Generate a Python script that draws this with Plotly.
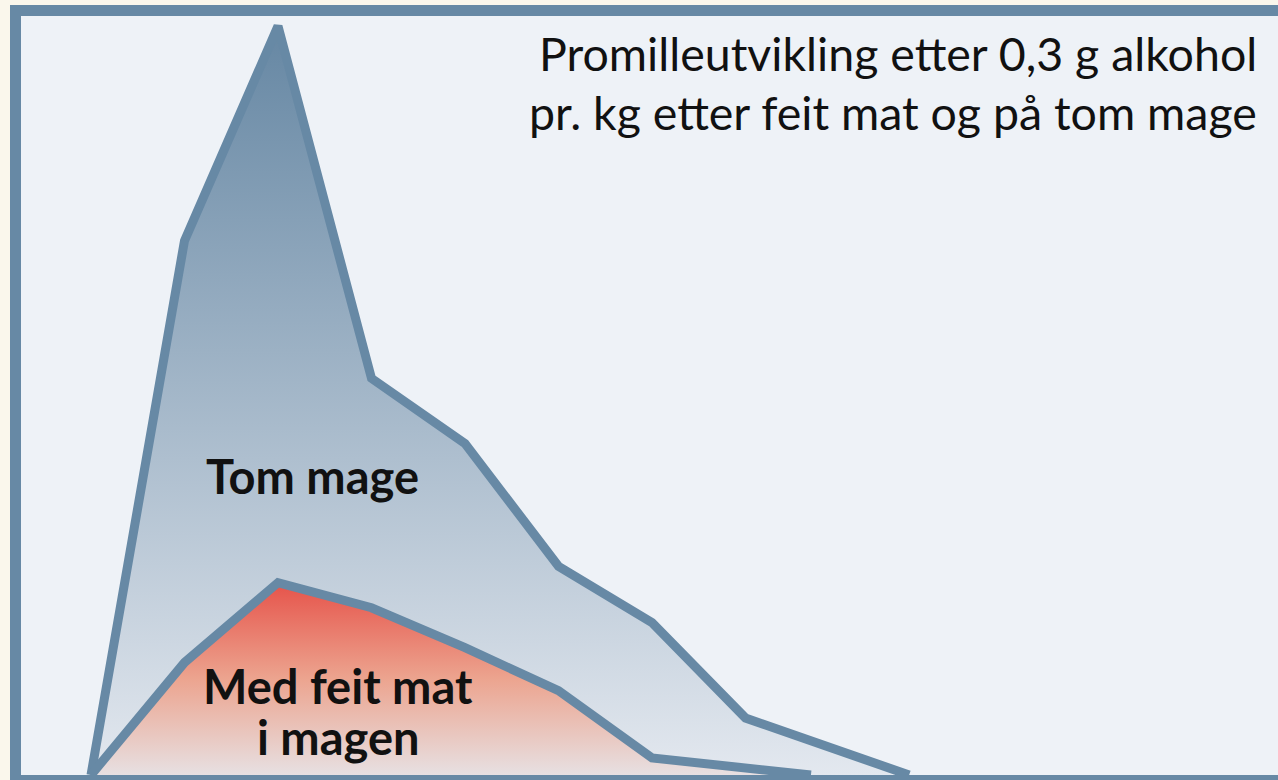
import plotly.graph_objects as go

# Time steps (arbitrary units, equally spaced) and blood alcohol (promille)
tom_t = [0, 1, 2, 3, 4, 5, 6, 7, 8.75]
tom_v = [0, 0.361, 0.506, 0.268, 0.224, 0.141, 0.103, 0.0385, 0]
mat_t = [0, 1, 2, 3, 4, 5, 6, 7, 7.7]
mat_v = [0, 0.076, 0.130, 0.113, 0.086, 0.057, 0.0115, 0.005, 0]

title_lines = ["Promilleutvikling etter 0,3 g alkohol", "pr. kg etter feit mat og på tom mage"]
label_tom = "Tom mage"
label_mat = ["Med feit mat", "i magen"]

W, H = 1278, 780
LINE = "#6789a5"
CREAM = "#faf7ec"
INNER = "#eef2f7"
FONT = "Lato"

fig = go.Figure()
fig.add_trace(go.Scatter(
    x=tom_t, y=tom_v, mode="lines", fill="tozeroy",
    line=dict(color=LINE, width=9),
    fillgradient=dict(type="vertical", start=0, stop=0.5,
                      colorscale=[[0, "#e3e8ef"], [1, "#6788a4"]]),
    hoverinfo="skip"))
fig.add_trace(go.Scatter(
    x=mat_t, y=mat_v, mode="lines", fill="tozeroy",
    line=dict(color=LINE, width=9),
    fillgradient=dict(type="vertical", start=0, stop=0.13,
                      colorscale=[[0, "#e7e0e2"], [0.5, "#eca48f"], [1, "#e6534a"]]),
    hoverinfo="skip"))

def px(x):
    return x / W

def py(y):
    return 1 - y / H

shapes = [
    dict(type="rect", xref="paper", yref="paper", layer="below",
         x0=px(15.5), x1=px(W + 20), y0=py(H + 20), y1=py(10.5),
         fillcolor=INNER, line=dict(width=0)),
    dict(type="rect", xref="paper", yref="paper", layer="above",
         x0=px(15.5), x1=px(W + 20), y0=py(780.5), y1=py(10.5),
         fillcolor="rgba(0,0,0,0)", line=dict(color=LINE, width=11)),
]

def ann(text, x, y, size, anchor="center", bold=False):
    return dict(text=("<b>%s</b>" % text) if bold else text,
                xref="paper", yref="paper", x=px(x), y=py(y),
                xanchor=anchor, yanchor="middle", showarrow=False,
                font=dict(family=FONT, size=size, color="#111111"))

annotations = [
    ann(title_lines[0], 1259, 53, 46.5, "right"),
    ann(title_lines[1], 1259, 112, 46.5, "right"),
    ann(label_tom, 312, 476, 47, bold=True),
    ann(label_mat[0], 338, 686, 47, bold=True),
    ann(label_mat[1], 338, 737, 47, bold=True),
]

fig.update_layout(
    width=W, height=H,
    margin=dict(l=0, r=0, t=0, b=0),
    paper_bgcolor=CREAM, plot_bgcolor=CREAM,
    showlegend=False,
    xaxis=dict(visible=False, range=[-91 / 93.5, (W - 91) / 93.5], fixedrange=True),
    yaxis=dict(visible=False, range=[-5 / 1480, 775 / 1480], fixedrange=True),
    shapes=shapes, annotations=annotations,
)

fig.write_html("out.html", config={"displayModeBar": False},
               post_script="document.body.style.margin='0';document.body.style.overflow='hidden';")
